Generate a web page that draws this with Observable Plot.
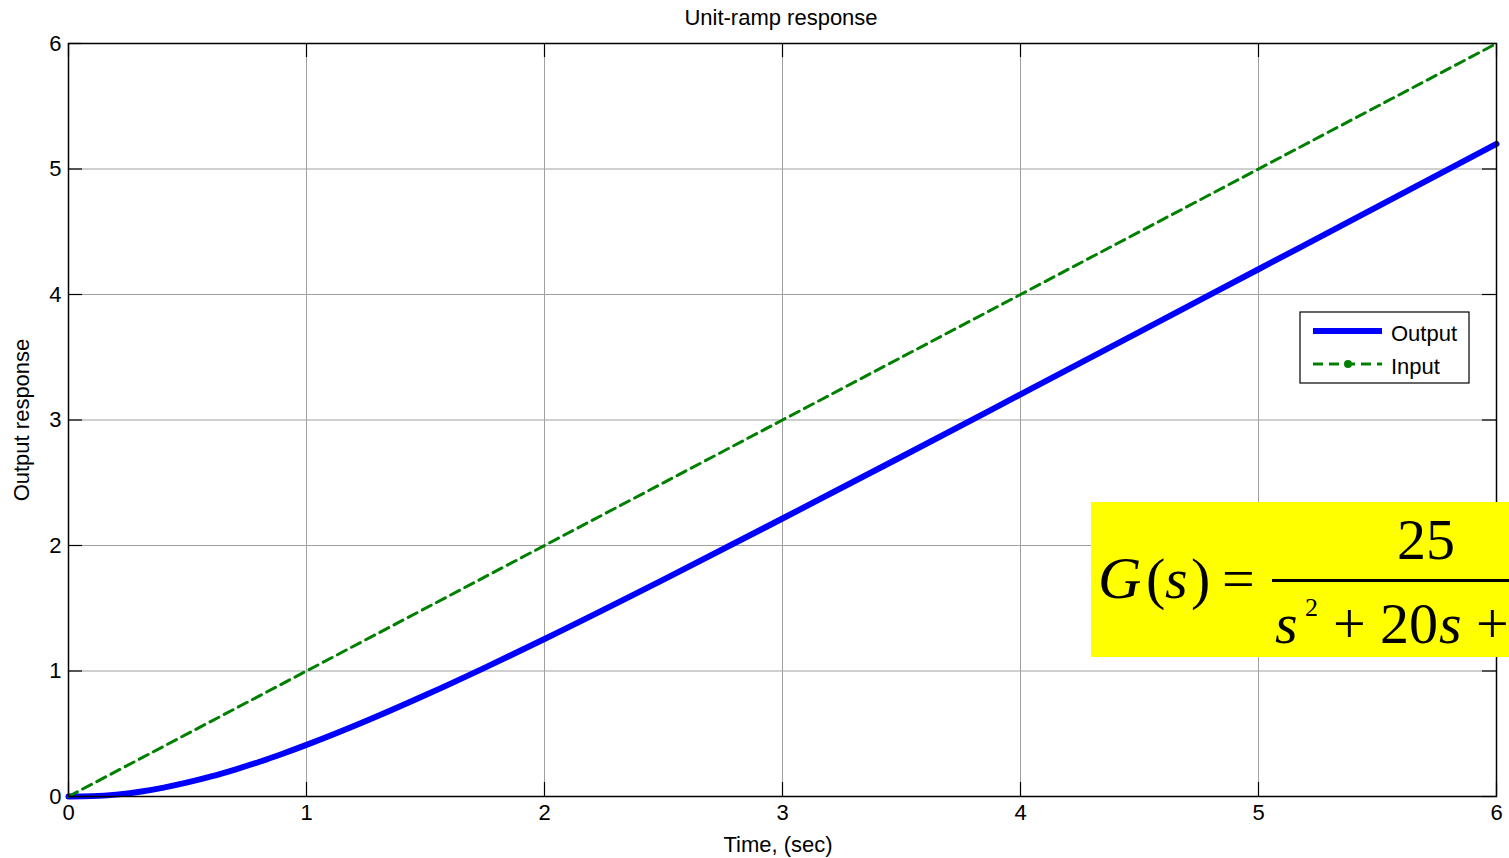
<!DOCTYPE html>
<html>
<head>
<meta charset="utf-8">
<script src="https://cdn.jsdelivr.net/npm/d3@7"></script>
<script src="https://cdn.jsdelivr.net/npm/@observablehq/plot@0.6"></script>
<style>
  html, body { margin: 0; padding: 0; background: white; }
  #wrap { position: relative; width: 1509px; height: 858px; overflow: hidden; font-family: "Liberation Sans", Arial, sans-serif; }
  #chart { position: absolute; left: 0; top: 0; }
  .lbl { position: absolute; font-size: 22px; color: #000; white-space: nowrap; line-height: 1.15; }
  #overlay { position: absolute; left: 0; top: 0; }
</style>
</head>
<body>
<div id="wrap">
  <div id="chart"></div>
  <div class="lbl" id="title" style="left:781px; top:5px; transform:translateX(-50%);">Unit-ramp response</div>
  <div class="lbl" id="xlabel" style="left:778px; top:832px; transform:translateX(-50%);">Time, (sec)</div>
  <div class="lbl" id="ylabel" style="left:22px; top:420px; transform:translate(-50%,-50%) rotate(-90deg);">Output response</div>
  <svg id="overlay" width="1509" height="858"></svg>
</div>
<script>
// ---- data ----
const outputTime  = [0, 0.1, 0.2, 0.3, 0.4, 0.5, 0.6, 0.7, 0.8, 0.9, 1.0, 1.25, 1.5, 1.75, 2.0, 2.5, 3.0, 3.5, 4.0, 4.5, 5.0, 5.5, 6.0];
const outputValue = [0, 0.003, 0.015, 0.038, 0.071, 0.112, 0.160, 0.215, 0.275, 0.341, 0.411, 0.601, 0.808, 1.027, 1.255, 1.728, 2.215, 2.707, 3.204, 3.702, 4.201, 4.700, 5.200];
const inputTime   = [0, 1, 2, 3, 4, 5, 6];
const inputValue  = [0, 1, 2, 3, 4, 5, 6];
const xTicks = [0, 1, 2, 3, 4, 5, 6];
const yTicks = [0, 1, 2, 3, 4, 5, 6];
const seriesNames = ["Output", "Input"];
const seriesColors = ["#0000ff", "#008000"];

const outputData = outputTime.map((t, i) => ({t, v: outputValue[i]}));
const inputData = inputTime.map((t, i) => ({t, v: inputValue[i]}));

const W = 1509, H = 858, mT = 43, mR = 13, mB = 62, mL = 68;
const tickLen = 14;
const innerW = W - mL - mR, innerH = H - mT - mB;

const chart = Plot.plot({
  width: W, height: H,
  marginTop: mT, marginRight: mR, marginBottom: mB, marginLeft: mL,
  style: {fontFamily: "'Liberation Sans', Arial, sans-serif", fontSize: "22px", background: "white", color: "black"},
  x: {domain: [0, 6], ticks: xTicks},
  y: {domain: [0, 6], ticks: yTicks},
  marks: [
    Plot.gridX(xTicks, {stroke: "#a0a0a0", strokeOpacity: 1, strokeWidth: 1}),
    Plot.gridY(yTicks, {stroke: "#a0a0a0", strokeOpacity: 1, strokeWidth: 1}),
    Plot.ruleX(xTicks, {x: d => d, insetTop: innerH - tickLen, stroke: "black", strokeWidth: 1.2}),
    Plot.ruleX(xTicks, {x: d => d, insetBottom: innerH - tickLen, stroke: "black", strokeWidth: 1.2}),
    Plot.ruleY(yTicks, {y: d => d, insetRight: innerW - tickLen, stroke: "black", strokeWidth: 1.2}),
    Plot.ruleY(yTicks, {y: d => d, insetLeft: innerW - tickLen, stroke: "black", strokeWidth: 1.2}),
    Plot.line(outputData, {x: "t", y: "v", stroke: seriesColors[0], strokeWidth: 6, curve: "monotone-x"}),
    Plot.line(inputData, {x: "t", y: "v", stroke: seriesColors[1], strokeWidth: 3, strokeDasharray: "10,6"}),
    Plot.frame({stroke: "black", strokeWidth: 1.5}),
    Plot.axisX(xTicks, {tickSize: 0, tickPadding: 8, label: null, fontSize: 22, tickFormat: d => String(d)}),
    Plot.axisY(yTicks, {tickSize: 0, tickPadding: 7, label: null, fontSize: 22, tickFormat: d => String(d)})
  ]
});
document.getElementById("chart").appendChild(chart);

// ---- legend and equation annotation (overlay) ----
const ov = d3.select("#overlay");
const lg = ov.append("g");
lg.append("rect").attr("x", 1300).attr("y", 312).attr("width", 169).attr("height", 71)
  .attr("fill", "white").attr("stroke", "black").attr("stroke-width", 1.2);
lg.append("line").attr("x1", 1313).attr("x2", 1382).attr("y1", 331).attr("y2", 331)
  .attr("stroke", seriesColors[0]).attr("stroke-width", 6);
lg.append("line").attr("x1", 1313).attr("x2", 1382).attr("y1", 364).attr("y2", 364)
  .attr("stroke", seriesColors[1]).attr("stroke-width", 3).attr("stroke-dasharray", "10,6");
lg.append("circle").attr("cx", 1348).attr("cy", 364).attr("r", 4).attr("fill", seriesColors[1]);
lg.append("text").attr("x", 1391).attr("y", 341).text(seriesNames[0])
  .attr("font-family", "'Liberation Sans', Arial, sans-serif").attr("font-size", 22);
lg.append("text").attr("x", 1391).attr("y", 374).text(seriesNames[1])
  .attr("font-family", "'Liberation Sans', Arial, sans-serif").attr("font-size", 22);

const eq = ov.append("g").attr("font-family", "'Liberation Serif', 'Times New Roman', serif");
eq.append("rect").attr("x", 1091).attr("y", 502).attr("width", 440).attr("height", 155).attr("fill", "#ffff00");
const glyph = (x, y, s, italic, size) => eq.append("text").attr("x", x).attr("y", y).text(s)
  .attr("font-size", size || 56).attr("font-style", italic ? "italic" : "normal").attr("fill", "black");
glyph(1098, 598, "G", true, 60);
glyph(1146, 598, "(", false, 58);
glyph(1165, 598, "s", true, 58);
glyph(1191, 598, ")", false, 58);
glyph(1222, 598, "=", false, 58);
glyph(1397, 559, "25", false, 58);
eq.append("rect").attr("x", 1272).attr("y", 579).attr("width", 260).attr("height", 3).attr("fill", "black");
glyph(1275, 643, "s", true, 58);
glyph(1305, 616, "2", false, 26);
glyph(1333, 643, "+", false, 58);
glyph(1380, 643, "20", false, 58);
glyph(1439, 643, "s", true, 58);
glyph(1476, 643, "+", false, 58);
</script>
</body>
</html>
